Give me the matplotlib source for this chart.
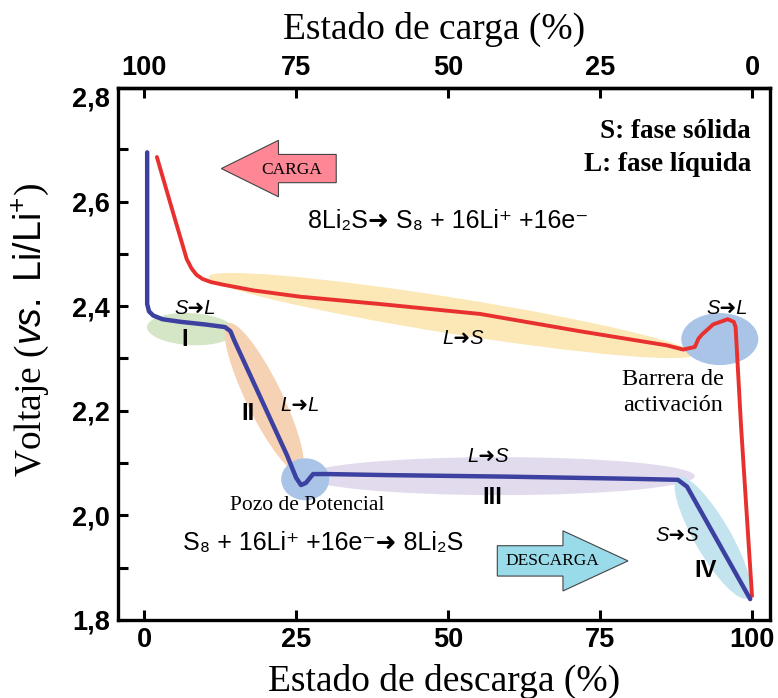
import numpy as np
import matplotlib
matplotlib.use("Agg")
import matplotlib.pyplot as plt
from matplotlib.patches import Ellipse, FancyArrow
from matplotlib.transforms import IdentityTransform

plt.rcParams['mathtext.fontset'] = 'custom'
plt.rcParams['mathtext.rm'] = 'Liberation Sans'
plt.rcParams['mathtext.sf'] = 'Liberation Sans'
plt.rcParams['mathtext.it'] = 'Liberation Sans:italic'
plt.rcParams['mathtext.bf'] = 'Liberation Sans:bold'

# ---------------- data ----------------
discharge_x = [0.5, 0.5, 0.8, 1.5, 3.0, 6.0, 10.0, 13.3, 14.2, 14.8, 23.5, 25.0,
               25.8, 26.6, 27.8, 30.0, 40.0, 60.0, 80.0, 87.8, 89.3, 99.7]
discharge_v = [2.694, 2.404, 2.390, 2.382, 2.375, 2.370, 2.365, 2.360, 2.352, 2.335,
               2.115, 2.072, 2.058, 2.062, 2.079, 2.079, 2.077, 2.074, 2.070, 2.068,
               2.055, 1.840]

charge_x = [2.1, 4.8, 7.0, 7.8, 8.6, 9.6, 11.0, 13.0, 18.0, 25.7, 38.8, 55.3, 71.7,
            86.0, 88.7, 90.6, 91.2, 91.8, 93.6, 96.0, 97.0, 97.3, 98.2, 100.0]
charge_v = [2.685, 2.577, 2.490, 2.472, 2.460, 2.452, 2.446, 2.441, 2.430, 2.418,
            2.404, 2.385, 2.352, 2.325, 2.317, 2.322, 2.338, 2.346, 2.365, 2.375,
            2.370, 2.360, 2.170, 1.846]

xticks = [0, 25, 50, 75, 100]
xtick_labels = ['0', '25', '50', '75', '100']
top_ticks = [100, 75, 50, 25, 0]
top_tick_labels = ['100', '75', '50', '25', '0']
yticks = [1.8, 2.0, 2.2, 2.4, 2.6, 2.8]
ytick_labels = ['1,8', '2,0', '2,2', '2,4', '2,6', '2,8']
yminor = [1.9, 2.1, 2.3, 2.5, 2.7]

# ---------------- figure ----------------
fig = plt.figure(figsize=(7.78, 6.98), dpi=100)
ax = fig.add_axes([118/778, 1-620/698, (770-118)/778, (620-88)/698])
ax.set_xlim(-4.3, 102.96)
ax.set_ylim(1.8, 2.817)

for s in ax.spines.values():
    s.set_linewidth(2.4)

SANS = ['Liberation Sans', 'DejaVu Sans']
SERIF = ['Liberation Serif', 'DejaVu Serif']
ARW = '\u279C'

ax.set_xticks(xticks)
ax.set_xticklabels(xtick_labels, fontfamily=SANS, fontweight='bold', fontsize=19.5)
ax.set_yticks(yticks)
ax.set_yticklabels(ytick_labels, fontfamily=SANS, fontweight='bold', fontsize=19.5)
ax.set_yticks(yminor, minor=True)
ax.tick_params(axis='both', which='both', direction='in', length=7, width=2.2,
               top=False, right=False)
ax.tick_params(axis='x', pad=5)
ax.tick_params(axis='y', pad=6)
ax.yaxis.get_major_ticks()[-1].tick1line.set_visible(False)

sec = ax.secondary_xaxis('top', functions=(lambda x: 100 - x, lambda x: 100 - x))
sec.set_xticks(top_ticks)
sec.set_xticklabels(top_tick_labels, fontfamily=SANS, fontweight='bold', fontsize=19.5)
sec.tick_params(direction='in', length=7, width=2.2, pad=5)
sec.spines['top'].set_linewidth(2.4)

# ---------------- highlight ellipses ----------------
def ell_ends(p1, p2, thick, color):
    a = ax.transData.transform(p1)
    b = ax.transData.transform(p2)
    c = (a + b) / 2
    d = b - a
    e = Ellipse(c, np.hypot(*d), thick, angle=np.degrees(np.arctan2(d[1], d[0])),
                transform=IdentityTransform(), facecolor=color, edgecolor='none', zorder=1)
    ax.add_patch(e)

def ell_c(p, w, h, color, ang=0):
    c = ax.transData.transform(p)
    e = Ellipse(c, w, h, angle=ang, transform=IdentityTransform(),
                facecolor=color, edgecolor='none', zorder=1)
    ax.add_patch(e)

ell_ends((10.6, 2.456), (90.5, 2.308), 36, '#fbe8b6')
ell_c((7.7, 2.356), 88, 32, '#d5e6c6', ang=-3)
ell_ends((13.8, 2.367), (25.7, 2.082), 36, '#f6d2b4')
ell_c((58.5, 2.075), 390, 38, '#e2dbee')
ell_c((26.5, 2.069), 48, 42, '#a9c4e6')
ell_c((94.7, 2.337), 77, 52, '#a9c4e6')
ell_ends((87.8, 2.073), (99.3, 1.842), 36, '#c3e4ee')

# ---------------- curves ----------------
ax.plot(charge_x, charge_v, color='#e8302f', lw=2.8, solid_joinstyle='round',
        solid_capstyle='round', zorder=3)
ax.plot(discharge_x, discharge_v, color='#3c40a0', lw=3.2, solid_joinstyle='round',
        solid_capstyle='round', zorder=4)

# ---------------- arrows ----------------
ax.add_patch(FancyArrow(31.6, 2.663, -18.9, 0, width=0.054, head_width=0.108,
                        head_length=9.4, length_includes_head=True,
                        facecolor='#fd8794', edgecolor='#444444', lw=0.8, zorder=5))
ax.text(24.3, 2.66, 'CARGA', fontfamily=SERIF, fontsize=12.5, ha='center', va='center', zorder=6)
ax.add_patch(FancyArrow(58.1, 1.913, 21.5, 0, width=0.058, head_width=0.115,
                        head_length=10.7, length_includes_head=True,
                        facecolor='#9adbea', edgecolor='#444444', lw=0.8, zorder=5))
ax.text(67.1, 1.913, 'DESCARGA', fontfamily=SERIF, fontsize=12.5, ha='center', va='center', zorder=6)

# ---------------- texts ----------------
ax.text(99.8, 2.721, 'S: fase sólida', fontfamily=SERIF, fontweight='bold', fontsize=19.5,
        ha='right', va='baseline')
ax.text(99.8, 2.658, 'L: fase líquida', fontfamily=SERIF, fontweight='bold', fontsize=19.5,
        ha='right', va='baseline')
ax.text(27.0, 2.55, '8Li\u2082S' + ARW + ' S\u2088 + 16Li\u207A +16e\u207B', fontfamily=SANS,
        fontsize=18, ha='left', va='baseline')
ax.text(6.4, 1.933, 'S\u2088 + 16Li\u207A +16e\u207B' + ARW + ' 8Li\u2082S', fontfamily=SANS,
        fontsize=18, ha='left', va='baseline')

lab = dict(fontfamily=SANS, fontsize=14.5, style='italic', ha='center', va='center', zorder=6)
ax.text(8.4, 2.396, 'S' + ARW + 'L', **lab)
ax.text(25.7, 2.211, 'L' + ARW + 'L', **lab)
ax.text(52.5, 2.338, 'L' + ARW + 'S', **lab)
ax.text(95.9, 2.396, 'S' + ARW + 'L', **lab)
ax.text(56.6, 2.112, 'L' + ARW + 'S', **lab)
ax.text(87.7, 1.962, 'S' + ARW + 'S', **lab)

rom = dict(fontfamily=SANS, fontsize=17, fontweight='bold', ha='center', va='center', zorder=6)
ax.text(6.7, 2.337, 'I', **rom)
ax.text(17.1, 2.194, 'II', **rom)
ax.text(57.2, 2.035, 'III', **rom)
ax.text(92.3, 1.894, 'IV', **rom)

ax.text(26.8, 2.010, 'Pozo de Potencial', fontfamily=SERIF, fontsize=15.5, ha='center', va='baseline')
ax.text(87.0, 2.250, 'Barrera de', fontfamily=SERIF, fontsize=17.5, ha='center', va='baseline')
ax.text(87.0, 2.200, 'activación', fontfamily=SERIF, fontsize=17.5, ha='center', va='baseline')

# ---------------- axis labels ----------------
fig.text(434/778, 1-39/698, 'Estado de carga (%)', fontfamily=SERIF, fontsize=27,
         ha='center', va='baseline')
fig.text(444/778, 7/698, 'Estado de descarga (%)', fontfamily=SERIF, fontsize=27,
         ha='center', va='baseline')
fig.text(30/778, 1-330/698, r'Voltaje ($\mathit{vs.}$ $\mathsf{Li/Li^{+}}$)', fontfamily=SERIF,
         fontsize=27, rotation=90, ha='center', va='center')

fig.savefig('out.png', dpi=100)
